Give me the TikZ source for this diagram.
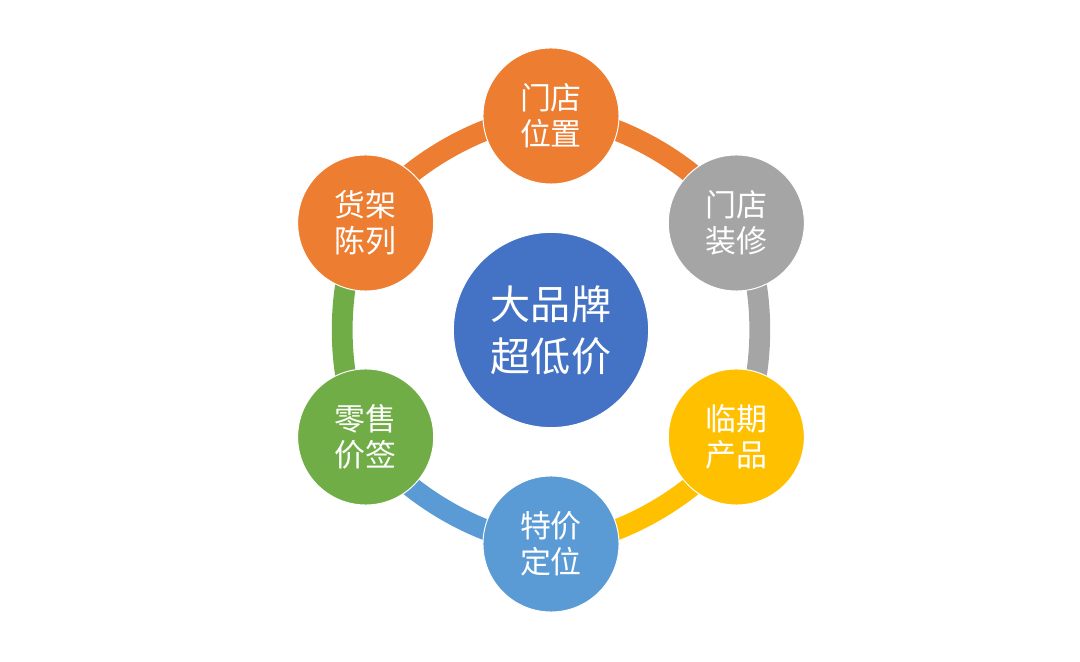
\documentclass[tikz,border=0pt]{standalone}
\usepackage{fontspec}
\usepackage{xcolor}
\usepackage{tikz}
\usetikzlibrary{backgrounds}
\newfontfamily\cjk{Noto Sans CJK SC}
\definecolor{hubblue}{HTML}{4472C4}
\definecolor{ringorange}{HTML}{ED7D31}
\definecolor{ringgray}{HTML}{A5A5A5}
\definecolor{ringgold}{HTML}{FFC000}
\definecolor{ringblue}{HTML}{5B9BD5}
\definecolor{ringgreen}{HTML}{70AD47}

\begin{document}
\begin{tikzpicture}[x=0.025cm, y=0.025cm,
    every node/.style={circle, draw=white, line width=0.7pt, text=white, align=center, inner sep=0pt, minimum size=3.4cm, font=\cjk\fontsize{22}{25.5}\selectfont},
    ring/.style={line width=0.52cm, bend left=30, looseness=0.75}]
    \useasboundingbox (-551,-332) rectangle (529,330);

    \node (hub) at (0,0) [fill=hubblue, minimum size=4.88cm, font=\cjk\fontsize{28.5}{37}\selectfont] {大品牌\\超低价};
    \node (location) at (90:214) [fill=ringorange] {门店\\位置};
    \node (decor) at (30:214) [fill=ringgray] {门店\\装修};
    \node (expiry) at (-30:214) [fill=ringgold] {临期\\产品};
    \node (special) at (-90:214) [fill=ringblue] {特价\\定位};
    \node (pricetag) at (210:214) [fill=ringgreen] {零售\\价签};
    \node (shelf) at (150:214) [fill=ringorange] {货架\\陈列};

    \begin{scope}[on background layer]
        \draw[ring, ringorange] (location.center) to (decor.center);
        \draw[ring, ringgray] (decor.center) to (expiry.center);
        \draw[ring, ringgold] (expiry.center) to (special.center);
        \draw[ring, ringblue] (special.center) to (pricetag.center);
        \draw[ring, ringgreen] (pricetag.center) to (shelf.center);
        \draw[ring, ringorange] (shelf.center) to (location.center);
    \end{scope}
\end{tikzpicture}
\end{document}
